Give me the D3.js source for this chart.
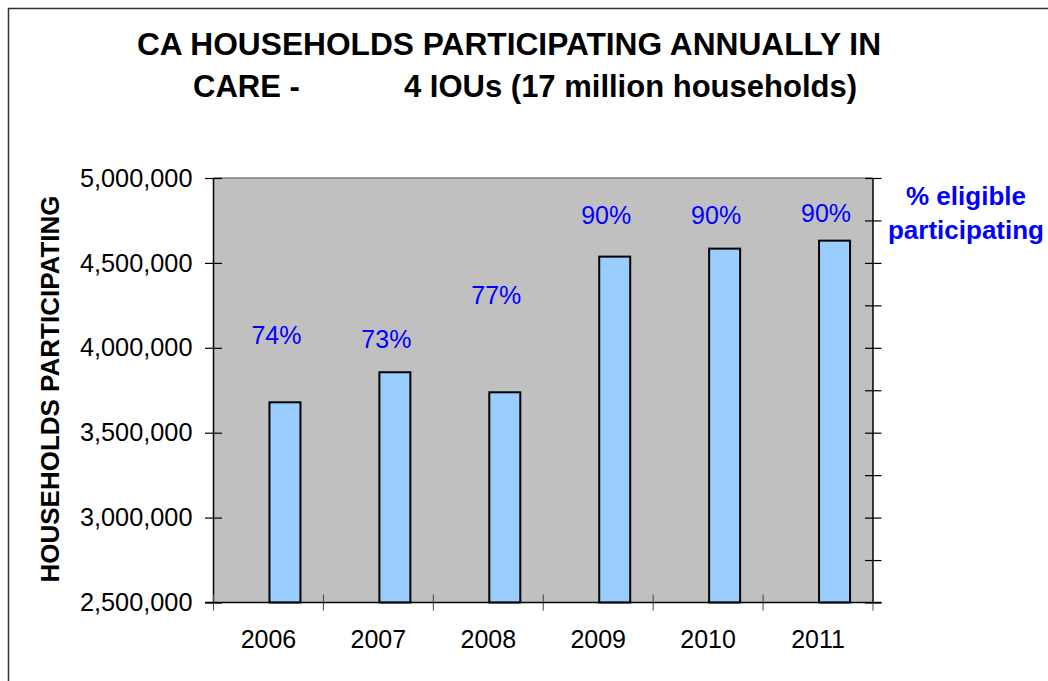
<!DOCTYPE html>
<html>
<head>
<meta charset="utf-8">
<script src="https://cdn.jsdelivr.net/npm/d3@7"></script>
<style>
  body { margin: 0; background: #fff; }
  svg { display: block; font-family: "Liberation Sans", Arial, sans-serif; }
  .axis path { display: none; }
</style>
</head>
<body>
<svg width="1048" height="681"></svg>
<script>
// data
var years = ["2006", "2007", "2008", "2009", "2010", "2011"];
var households = [3679000, 3856000, 3738000, 4537000, 4584000, 4631000];
var pctEligible = ["74%", "73%", "77%", "90%", "90%", "90%"];
// level (in households) where each % label sits
var pctLabelLevel = [4022000, 3997000, 4258000, 4729000, 4729000, 4741000];
var yTicks = [2500000, 3000000, 3500000, 4000000, 4500000, 5000000];

var svg = d3.select("svg");

var plot = {left: 213.5, right: 873, top: 178, bottom: 602.5};

// outer chart frame
svg.append("rect")
    .attr("x", 8.5).attr("y", 8.5)
    .attr("width", 1100).attr("height", 720)
    .attr("fill", "none")
    .attr("stroke", "#333")
    .attr("stroke-width", 1.5);

// title
svg.append("text")
    .attr("x", 509).attr("y", 55)
    .attr("text-anchor", "middle")
    .attr("font-weight", "bold")
    .attr("font-size", 31.7)
    .text("CA HOUSEHOLDS PARTICIPATING ANNUALLY IN");
svg.append("text")
    .attr("x", 193).attr("y", 96.5)
    .attr("font-weight", "bold").attr("font-size", 31)
    .text("CARE -");
svg.append("text")
    .attr("x", 857).attr("y", 96.5)
    .attr("text-anchor", "end")
    .attr("font-weight", "bold").attr("font-size", 31)
    .text("4 IOUs (17 million households)");

var x = d3.scaleBand()
    .domain(years)
    .range([plot.left, plot.right]);

var y = d3.scaleLinear()
    .domain([2500000, 5000000])
    .range([plot.bottom, plot.top]);

var y2 = d3.scaleLinear()
    .domain([0, 1])
    .range([plot.bottom, plot.top]);

// plot background
svg.append("rect")
    .attr("x", plot.left).attr("y", plot.top)
    .attr("width", plot.right - plot.left)
    .attr("height", plot.bottom - plot.top)
    .attr("fill", "#c0c0c0");

svg.append("line")
    .attr("x1", plot.left).attr("x2", plot.right)
    .attr("y1", plot.top).attr("y2", plot.top)
    .attr("stroke", "#808080").attr("stroke-width", 1.5);

// bars
var barW = 31;
svg.selectAll(".bar")
    .data(years)
  .enter().append("rect")
    .attr("class", "bar")
    .attr("x", function(d) { return x(d) + x.bandwidth() / 2 + 1; })
    .attr("y", function(d, i) { return y(households[i]); })
    .attr("width", barW)
    .attr("height", function(d, i) { return plot.bottom - y(households[i]); })
    .attr("fill", "#99ccff")
    .attr("stroke", "#000")
    .attr("stroke-width", 2);

// % eligible labels
svg.selectAll(".pct")
    .data(years)
  .enter().append("text")
    .attr("class", "pct")
    .attr("x", function(d) { return x(d) + x.bandwidth() / 2 + 8; })
    .attr("y", function(d, i) { return y(pctLabelLevel[i]); })
    .attr("text-anchor", "middle")
    .attr("font-size", 25)
    .attr("fill", "#0000ff")
    .text(function(d, i) { return pctEligible[i]; });

// left axis
var gy = svg.append("g")
    .attr("class", "axis")
    .attr("transform", "translate(" + plot.left + ",0)")
    .call(d3.axisLeft(y)
        .tickValues(yTicks)
        .tickFormat(d3.format(","))
        .tickSize(0)
        .tickPadding(21));
gy.selectAll("text").attr("font-size", 25.3).attr("fill", "#000");
gy.selectAll(".tick line")
    .attr("x1", -8.5).attr("x2", 8.5)
    .attr("stroke", "#000").attr("stroke-width", 1.2);
svg.append("line")
    .attr("x1", plot.left).attr("x2", plot.left)
    .attr("y1", plot.top).attr("y2", plot.bottom)
    .attr("stroke", "#000").attr("stroke-width", 1.5);

// right (secondary) axis, no labels
var gy2 = svg.append("g")
    .attr("class", "axis")
    .attr("transform", "translate(" + plot.right + ",0)")
    .call(d3.axisRight(y2).ticks(10).tickFormat("").tickSize(0));
gy2.selectAll(".tick line")
    .attr("x1", -8).attr("x2", 8.5)
    .attr("stroke", "#000").attr("stroke-width", 1.2);
svg.append("line")
    .attr("x1", plot.right).attr("x2", plot.right)
    .attr("y1", plot.top).attr("y2", plot.bottom)
    .attr("stroke", "#000").attr("stroke-width", 1.5);

// bottom axis
var gx = svg.append("g")
    .attr("class", "axis")
    .attr("transform", "translate(0," + plot.bottom + ")")
    .call(d3.axisBottom(x).tickSize(0).tickPadding(28));
gx.selectAll("text").attr("font-size", 25).attr("fill", "#000");

var bounds = years.map(function(d) { return x(d); }).concat([plot.right]);
svg.selectAll(".xtick")
    .data(bounds)
  .enter().append("line")
    .attr("class", "xtick")
    .attr("x1", function(d) { return d; }).attr("x2", function(d) { return d; })
    .attr("y1", plot.bottom - 8).attr("y2", plot.bottom + 8)
    .attr("stroke", "#444").attr("stroke-width", 1);
svg.append("line")
    .attr("x1", plot.left - 8.5).attr("x2", plot.right + 8.5)
    .attr("y1", plot.bottom).attr("y2", plot.bottom)
    .attr("stroke", "#000").attr("stroke-width", 1.5);

// y axis title
svg.append("text")
    .attr("transform", "translate(59," + 389 + ") rotate(-90)")
    .attr("text-anchor", "middle")
    .attr("font-weight", "bold")
    .attr("font-size", 26)
    .text("HOUSEHOLDS PARTICIPATING");

// secondary label
var sec = svg.append("text")
    .attr("text-anchor", "middle")
    .attr("font-weight", "bold")
    .attr("font-size", 26)
    .attr("fill", "#0000ff");
sec.append("tspan").attr("x", 966).attr("y", 205).text("% eligible");
sec.append("tspan").attr("x", 966).attr("y", 238.5).text("participating");
</script>
</body>
</html>
